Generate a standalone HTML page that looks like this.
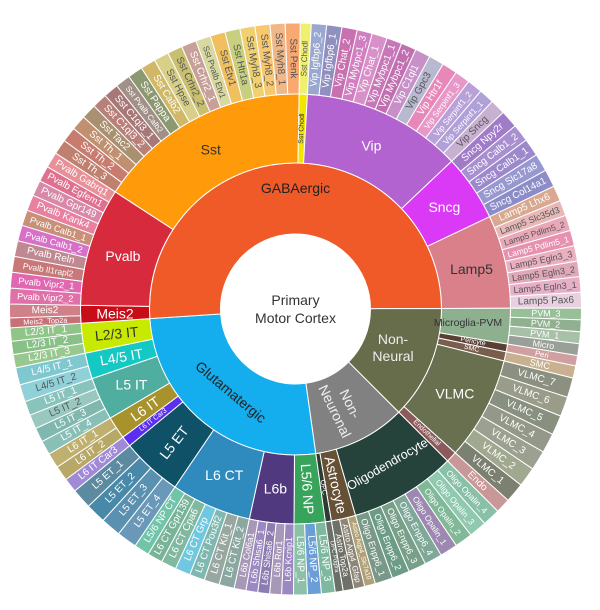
<!DOCTYPE html>
<html><head><meta charset="utf-8"><style>
html,body{margin:0;padding:0;background:#fff;}
svg{display:block;font-family:"Liberation Sans",sans-serif;}
</style></head><body>
<svg id="chart" width="600" height="610" viewBox="0 0 600 610"></svg>
<script>
// ---- data ----
const leafNames = [
"L5/6 NP_3","L5/6 NP_2","L5/6 NP_1",
"L6b Kcnip1","L6b Ror1","L6b Shisa6_2","L6b Shisa6_1","L6b Col6a1",
"L6 CT Kit_2","L6 CT Kit_1","L6 CT Pou3f2","L6 CT Grp","L6 CT Cpa6","L6 CT Gpr139","L5/6 NP CT",
"L5 ET_4","L5 ET_3","L5 ET_2","L5 ET_1",
"L6 IT Car3",
"L6 IT_2","L6 IT_1",
"L5 IT_4","L5 IT_3","L5 IT_2","L5 IT_1",
"L4/5 IT_2","L4/5 IT_1",
"L2/3 IT_3","L2/3 IT_2","L2/3 IT_1",
"Meis2_Top2a","Meis2",
"Pvalb Vipr2_2","Pvalb Vipr2_1","Pvalb Il1rapl2","Pvalb Reln","Pvalb Calb1_2","Pvalb Calb1_1","Pvalb Kank4","Pvalb Gpr149","Pvalb Egfem1","Pvalb Gabrq1",
"Sst Th_3","Sst Th_2","Sst Th_1","Sst Tac2","Sst C1ql3_2","Sst C1ql3_1","Sst Pvalb Calb2","Sst Pappa","Sst Calb2","Sst Hpse","Sst Crhr2_2","Sst Crhr2_1","Sst Pvalb Etv1","Sst Etv1","Sst Htr1a","Sst Myh8_3","Sst Myh8_2","Sst Myh8_1","Sst Penk",
"Sst Chodl",
"Vip Igfbp6_2","Vip Igfbp6_1","Vip Chat_2","Vip Mybpc1_3","Vip Chat_1","Vip Mybpc1_1","Vip Mybpc1_2","Vip C1ql1","Vip Gpc3","Vip Htr1f","Vip Serpinf1_3","Vip Serpinf1_2","Vip Serpinf1_1","Vip Sncg",
"Sncg Npy2r","Sncg Calb1_2","Sncg Calb1_1","Sncg Slc17a8","Sncg Col14a1",
"Lamp5 Lhx6","Lamp5 Slc35d3","Lamp5 Pdlim5_2","Lamp5 Pdlim5_1","Lamp5 Egln3_3","Lamp5 Egln3_2","Lamp5 Egln3_1","Lamp5 Pax6",
"PVM_3","PVM_2","PVM_1","Micro",
"Peri","SMC",
"VLMC_7","VLMC_6","VLMC_5","VLMC_4","VLMC_3","VLMC_2","VLMC_1",
"Endo",
"Oligo Opalin_4","Oligo Opalin_3","Oligo Opalin_2","Oligo Opalin_1","Oligo Enpp6_4","Oligo Enpp6_3","Oligo Enpp6_2","Oligo Enpp6_1",
"Astro Aqp4_Slc7a10","Astro Aqp4_Gfap","Astro Top2a",
"OPC Pdgfra"
];
const leafParents = [
"L5/6 NP","L5/6 NP","L5/6 NP",
"L6b","L6b","L6b","L6b","L6b",
"L6 CT","L6 CT","L6 CT","L6 CT","L6 CT","L6 CT","L6 CT",
"L5 ET","L5 ET","L5 ET","L5 ET",
"L6 IT Car3",
"L6 IT","L6 IT",
"L5 IT","L5 IT","L5 IT","L5 IT",
"L4/5 IT","L4/5 IT",
"L2/3 IT","L2/3 IT","L2/3 IT",
"Meis2","Meis2",
"Pvalb","Pvalb","Pvalb","Pvalb","Pvalb","Pvalb","Pvalb","Pvalb","Pvalb","Pvalb",
"Sst","Sst","Sst","Sst","Sst","Sst","Sst","Sst","Sst","Sst","Sst","Sst","Sst","Sst","Sst","Sst","Sst","Sst","Sst",
"Sst Chodl",
"Vip","Vip","Vip","Vip","Vip","Vip","Vip","Vip","Vip","Vip","Vip","Vip","Vip","Vip",
"Sncg","Sncg","Sncg","Sncg","Sncg",
"Lamp5","Lamp5","Lamp5","Lamp5","Lamp5","Lamp5","Lamp5","Lamp5",
"Microglia-PVM","Microglia-PVM","Microglia-PVM","Microglia-PVM",
"Pericyte","SMC",
"VLMC","VLMC","VLMC","VLMC","VLMC","VLMC","VLMC",
"Endothelial",
"Oligodendrocyte","Oligodendrocyte","Oligodendrocyte","Oligodendrocyte","Oligodendrocyte","Oligodendrocyte","Oligodendrocyte","Oligodendrocyte",
"Astrocyte","Astrocyte","Astrocyte",
"OPC"
];
const leafValues = [
2.8,2.8,2.8,
2.4,2.4,2.4,2.4,2.4,
3.1,3.1,3.1,3.1,3.1,3.1,3.1,
4.1,4.1,4.1,4.1,
2.9,
3.05,3.05,
2.9,2.9,2.9,2.9,
3.5,3.5,
2.7,2.7,2.7,
2,2.8,
3.2,3.2,3.2,3.2,3.2,3.2,3.2,3.2,3.2,3.2,
3.05,3.05,3.05,3.05,3.05,3.05,3.05,3.05,3.05,3.05,3.05,3.05,3.05,3.05,3.05,3.05,3.05,3.05,3.05,
2.2,
3.1,3.1,3.1,3.1,3.1,3.1,3.1,3.1,3.1,3.1,3.1,3.1,3.1,3.1,
3.6,3.6,3.6,3.6,3.6,
3.15,3.15,3.15,3.15,3.15,3.15,3.15,3.15,
2.4,2.4,2.4,2.4,
2.1,2.5,
4,4,4,4,4,4,4,
3,
3.6,3.6,3.6,3.6,3.6,3.6,3.6,3.6,
2.2,2.2,2.2,
1.6
];
const subtypeNames = ["L5/6 NP","L6b","L6 CT","L5 ET","L6 IT Car3","L6 IT","L5 IT","L4/5 IT","L2/3 IT",
"Meis2","Pvalb","Sst","Sst Chodl","Vip","Sncg","Lamp5",
"Microglia-PVM","Pericyte","SMC","VLMC","Endothelial",
"Oligodendrocyte","Astrocyte","OPC"];
const subtypeParents = ["Glutamatergic","Glutamatergic","Glutamatergic","Glutamatergic","Glutamatergic","Glutamatergic","Glutamatergic","Glutamatergic","Glutamatergic",
"GABAergic","GABAergic","GABAergic","GABAergic","GABAergic","GABAergic","GABAergic",
"Non-Neural","Non-Neural","Non-Neural","Non-Neural","Non-Neural",
"Non-Neuronal","Non-Neuronal","Non-Neuronal"];
const classNames = ["Glutamatergic","GABAergic","Non-Neural","Non-Neuronal"];
const rootLabel = ["Primary","Motor Cortex"];

// ---- style / layout ----
const CX = 295.5, CY = 309, R0 = 75, R1 = 146, R2 = 215, R3 = 286, START = 172;
const classColors = {"Glutamatergic":"#14aded","GABAergic":"#ef5a28","Non-Neural":"#676c4a","Non-Neuronal":"#818181"};
const subColors = {"L5/6 NP":"#37a35b","L6b":"#51397f","L6 CT":"#2f8bbd","L5 ET":"#0f5268","L6 IT Car3":"#5b2ff0","L6 IT":"#a8922b","L5 IT":"#4fae9f","L4/5 IT":"#14c8c4","L2/3 IT":"#c8ea00",
"Meis2":"#c90d18","Pvalb":"#d72a3c","Sst":"#ff9a0a","Sst Chodl":"#f2e600","Vip":"#b263d0","Sncg":"#da3af6","Lamp5":"#d9808b",
"Microglia-PVM":"#8fb08f","Pericyte":"#5a4034","SMC":"#7a5e4c","VLMC":"#68704f","Endothelial":"#8c5a5a",
"Oligodendrocyte":"#25433a","Astrocyte":"#675136","OPC":"#2c3b33"};
const leafPalettes = {"L5/6 NP":["#7fb8a0","#6a9ed8","#8cc0a8"],"L6b":["#9c88c0","#a898b8","#8c7cb0"],"L6 CT":["#8aa8a0","#98a8a0","#7eb8b0","#70c8e0","#80b8a0","#7ab498","#70c4a8"],
"L5 ET":["#6a98b8","#5a90b0","#4888a8","#5c8aa0"],"L6 IT Car3":["#a08ad8"],"L6 IT":["#b8a868","#c0b070"],"L5 IT":["#88c0b8","#80b8b0","#98c8c0","#88c4bc"],
"L4/5 IT":["#90d0d8","#80c8d0"],"L2/3 IT":["#98c890","#88c088","#90c488"],"Meis2":["#c87078","#d08088"],
"Pvalb":["#e070a8","#e068b0","#c87878","#c08890","#d870c8","#c89078","#e880a0","#d888a8","#e07090","#e89098"],
"Sst":["#c08070","#c87c70","#c09070","#a89070","#b88078","#a87878","#a09088","#8c9870","#d0b868","#d8d088","#c8c070","#c8a098","#d8d8a0","#f0c060","#c8d080","#f0d070","#f8c870","#f0b888","#f8a870"],
"Sst Chodl":["#f0f070"],
"Vip":["#9aa8d0","#9090c0","#c870b0","#d080c0","#d890c8","#c878b8","#c070b0","#c890c8","#b8b8d0","#e888b8","#e898c8","#b8a0d8","#b0a0d8","#c8b0d0"],
"Sncg":["#a07cc8","#a890d0","#9c88cc","#9898d0","#8c8cc8"],
"Lamp5":["#d8a890","#e8b8b8","#e8a8b8","#e890b0","#eab0c0","#e0a8b8","#e8b0c8","#e8d0e0"],
"Microglia-PVM":["#98c098","#90b090","#a8c0a8","#98a098"],"Pericyte":["#d0a0a0"],"SMC":["#c8b090"],
"VLMC":["#8c9080","#989c88","#889080","#949888","#9ca090","#a0a890","#7c8070"],"Endothelial":["#c89898"],
"Oligodendrocyte":["#88c0a8","#90c8b0","#80b898","#9c88b0","#80a898","#78a088","#6c9c88","#789888"],
"Astrocyte":["#b0a078","#8c8678","#707068"],"OPC":["#687068"]};

const svg = document.getElementById('chart');
const NS = 'http://www.w3.org/2000/svg';
function pt(a, r){const t=a*Math.PI/180;return [CX+r*Math.sin(t), CY-r*Math.cos(t)];}
function arcPath(a0,a1,r0,r1){
  const [x0,y0]=pt(a0,r1),[x1,y1]=pt(a1,r1),[x2,y2]=pt(a1,r0),[x3,y3]=pt(a0,r0);
  const lg=(a1-a0)>180?1:0;
  return `M${x0},${y0}A${r1},${r1} 0 ${lg} 1 ${x1},${y1}L${x2},${y2}A${r0},${r0} 0 ${lg} 0 ${x3},${y3}Z`;
}
function lum(h){const r=parseInt(h.substr(1,2),16),g=parseInt(h.substr(3,2),16),b=parseInt(h.substr(5,2),16);return (0.299*r+0.587*g+0.114*b)/255;}
function slug(s){return s.toLowerCase().replace(/[^a-z0-9]+/g,'-').replace(/^-|-$/g,'');}
function addText(txt,x,y,size,color,rot,name){
  const t=document.createElementNS(NS,'text');
  t.setAttribute('x',x);t.setAttribute('y',y);
  t.setAttribute('font-size',size);t.setAttribute('fill',color);
  t.setAttribute('text-anchor','middle');t.setAttribute('dominant-baseline','central');
  if(rot) t.setAttribute('transform',`rotate(${rot} ${x} ${y})`);
  t.textContent=txt;
  
  
  svg.appendChild(t);return t;
}
function addSector(a0,a1,r0,r1,fill,name){
  const p=document.createElementNS(NS,'path');
  p.setAttribute('d',arcPath(a0,a1,r0,r1));p.setAttribute('fill',fill);
  p.setAttribute('stroke','#fff');p.setAttribute('stroke-width','1');
  
  
  svg.appendChild(p);
}
function radialRot(m){return (m%360)<180 ? (m%360)-90 : (m%360)-270;}

// aggregate
const subVal={},classVal={};
subtypeNames.forEach(n=>subVal[n]=0);classNames.forEach(n=>classVal[n]=0);
leafValues.forEach((v,i)=>{subVal[leafParents[i]]+=v;});
subtypeNames.forEach((n,i)=>{classVal[subtypeParents[i]]+=subVal[n];});
const total=classNames.reduce((s,n)=>s+classVal[n],0);
const scale=360/total;

// ring 1
let a=START;
const classAng={};
classNames.forEach(n=>{const a1=a+classVal[n]*scale;classAng[n]=[a,a1];addSector(a,a1,R0,R1,classColors[n],'class-'+slug(n));a=a1;});
// ring 2
a=START;const subAng={};
subtypeNames.forEach(n=>{const a1=a+subVal[n]*scale;subAng[n]=[a,a1];addSector(a,a1,R1,R2,subColors[n],'subclass-'+slug(n));a=a1;});
// ring 3
a=START;const cnt={};
leafNames.forEach((n,i)=>{
  const p=leafParents[i];cnt[p]=(cnt[p]||0);const pal=leafPalettes[p];const col=pal[cnt[p]%pal.length];cnt[p]++;
  const a1=a+leafValues[i]*scale;
  addSector(a,a1,R2,R3,col,'leaf-'+slug(n));
  const m=(a+a1)/2;const [x,y]=pt(m,(R2+R3)/2);
  const arcLen=(a1-a)*Math.PI/180*((R2+R3)/2);
  let fs=Math.min(10,66/(0.56*n.length),arcLen*0.85);
  addText(n,x,y,fs.toFixed(2),lum(col)>0.72?'#555':'#fff',radialRot(m),'leaf-label-'+slug(n));
  a=a1;
});
// ring 2 labels
const subRot={"L2/3 IT":-6,"L4/5 IT":-10,"L5 IT":0,"L6 IT":-35,"L5 ET":-52,"L5/6 NP":"r","L6 IT Car3":"r","Sst Chodl":"r","Pericyte":"r","SMC":"r","Endothelial":"r","OPC":"r","Astrocyte":"r","Oligodendrocyte":-30};
const subSize={"L6 IT Car3":7,"Sst Chodl":7,"Pericyte":7,"SMC":7,"Endothelial":7,"OPC":7,"Microglia-PVM":10.5,"Oligodendrocyte":12.5};
subtypeNames.forEach(n=>{
  const [a0,a1]=subAng[n];const m=(a0+a1)/2;
  let r=(R1+R2)/2;
  if(n==="Microglia-PVM") r=R2-42;
  const [x,y]=pt(m,r);
  let rot=subRot[n]||0; if(rot==="r") rot=radialRot(m);
  const col=subColors[n];
  addText(n,x,y,subSize[n]||14,lum(col)>0.6?'#333':'#fff',rot,'subclass-label-'+slug(n));
});
// ring 1 labels
function classLabel(lines,name,r,rot,dx,dy){
  const [a0,a1]=classAng[name];const m=(a0+a1)/2;let [x,y]=pt(m,r);x+=dx;y+=dy;
  const col=classColors[name];const fc=lum(col)>0.6?'#333':(name==="GABAergic"||name==="Glutamatergic"?'#222':'#eee');
  lines.forEach((l,k)=>{
    const off=(k-(lines.length-1)/2)*17;
    const t=Math.PI/180*(rot||0);
    addText(l,x-off*Math.sin(t),y+off*Math.cos(t),14,fc,rot,'class-label-'+slug(name)+(lines.length>1?'-'+k:''));
  });
}
classLabel(["GABAergic"],"GABAergic",115,0,4,-6);
classLabel(["Glutamatergic"],"Glutamatergic",112,40,6,-4);
classLabel(["Non-","Neural"],"Non-Neural",112,0,-6,-4);
classLabel(["Non-","Neuronal"],"Non-Neuronal",110,64,-2,0);
// center
addText(rootLabel[0],CX,CY-9,14,'#333',0,'root-label-line1');
addText(rootLabel[1],CX,CY+9,14,'#333',0,'root-label-line2');
</script>
</body></html>
